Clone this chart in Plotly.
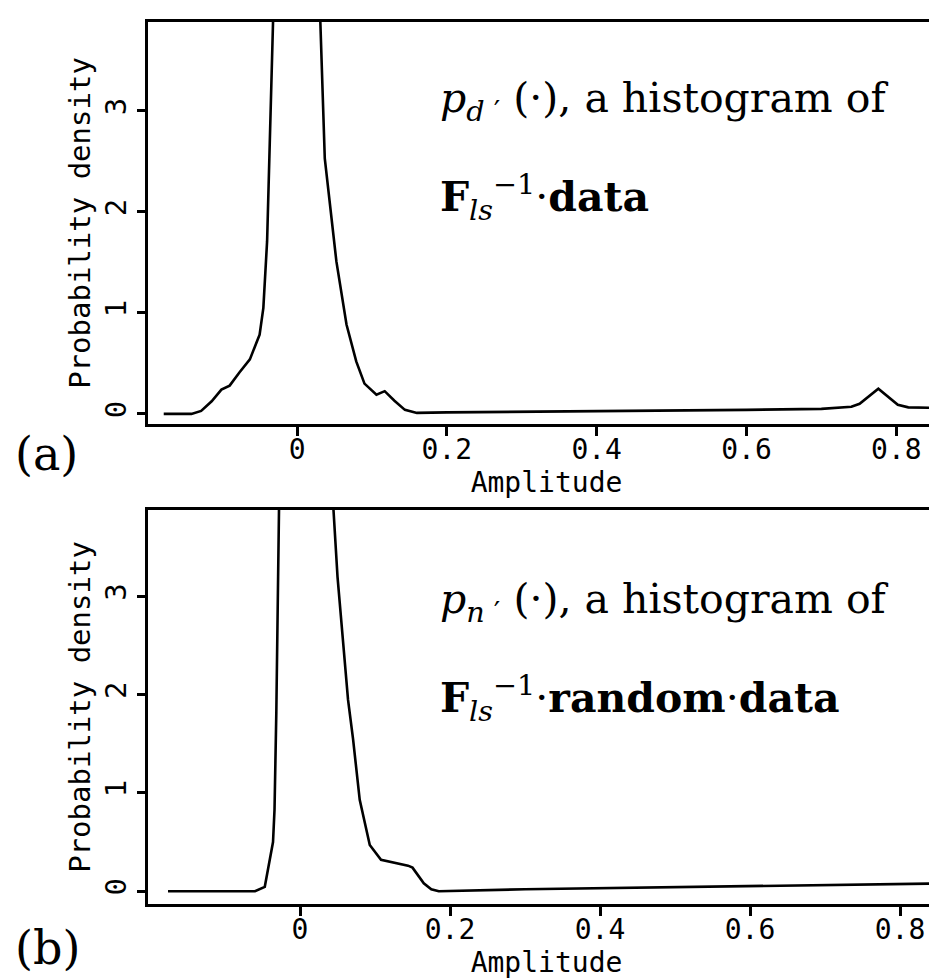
import plotly.graph_objects as go
from plotly.subplots import make_subplots

# Panel (a): histogram of F_ls^-1 . data
amp_a = [-0.178, -0.141, -0.128, -0.114, -0.101, -0.090, -0.077, -0.063, -0.050,
         -0.045, -0.040, -0.0365, -0.032, -0.02, 0.0, 0.02, 0.031, 0.037, 0.044,
         0.0525, 0.066, 0.079, 0.090, 0.106, 0.117, 0.130, 0.144, 0.160, 0.20,
         0.30, 0.40, 0.50, 0.60, 0.70, 0.740, 0.751, 0.776, 0.802, 0.816, 0.853]
dens_a = [0.0, 0.0, 0.03, 0.125, 0.24, 0.28, 0.41, 0.54, 0.785,
          1.05, 1.71, 2.7, 3.9, 6.5, 8.0, 5.5, 3.9, 2.53, 2.04,
          1.51, 0.885, 0.52, 0.30, 0.19, 0.225, 0.13, 0.04, 0.01, 0.015,
          0.02, 0.025, 0.03, 0.04, 0.05, 0.07, 0.10, 0.25, 0.09, 0.065, 0.06]

# Panel (b): histogram of F_ls^-1 . random . data
amp_b = [-0.176, -0.10, -0.060, -0.047, -0.036, -0.034, -0.0316, -0.028, -0.01,
         0.02, 0.04, 0.05, 0.064, 0.0707, 0.0796, 0.093, 0.108, 0.144, 0.150,
         0.165, 0.175, 0.185, 0.30, 0.50, 0.70, 0.86]
dens_b = [0.0, 0.0, 0.0, 0.045, 0.5, 0.83, 1.82, 3.9, 6.5,
          7.0, 4.5, 3.2, 1.95, 1.55, 0.93, 0.47, 0.32, 0.26, 0.24,
          0.08, 0.02, 0.0, 0.02, 0.04, 0.06, 0.08]

x_ticks = [0, 0.2, 0.4, 0.6, 0.8]
x_ticktext = ["0", "0.2", "0.4", "0.6", "0.8"]
y_ticks = [0, 1, 2, 3]
y_ticktext = ["0", "1", "2", "3"]

MONO = "DejaVu Sans Mono"
SERIF = "DejaVu Serif"

fig = make_subplots(rows=2, cols=1)

fig.add_trace(go.Scatter(x=amp_a, y=dens_a, mode="lines",
                         line=dict(color="black", width=2.6), showlegend=False),
              row=1, col=1)
fig.add_trace(go.Scatter(x=amp_b, y=dens_b, mode="lines",
                         line=dict(color="black", width=2.6), showlegend=False),
              row=2, col=1)

xcommon = dict(tickvals=x_ticks, ticktext=x_ticktext, showline=True, mirror=True,
               linecolor="black", linewidth=2.5, ticks="outside", ticklen=9,
               tickwidth=2.5, tickcolor="black", showgrid=False, zeroline=False,
               automargin=False, ticklabelstandoff=-10,
               tickfont=dict(family=MONO, size=28, color="black"),
               title=dict(text="Amplitude", standoff=0,
                          font=dict(family=MONO, size=28, color="black")))
ycommon = dict(tickvals=y_ticks, ticktext=y_ticktext, showline=True, mirror=False,
               linecolor="black", linewidth=2.5, ticks="outside", ticklen=8,
               tickwidth=2.5, tickcolor="black", showgrid=False, zeroline=False,
               tickangle=-90, automargin=False,
               tickfont=dict(family=MONO, size=29, color="black"),
               title=dict(text="Probability density", standoff=0,
                          font=dict(family=MONO, size=29, color="black")))

T, B = 14, 84
H = 980 - T - B
fig.update_layout(
    width=937, height=980,
    margin=dict(l=140, r=0, t=T, b=B),
    paper_bgcolor="white", plot_bgcolor="white",
    xaxis=dict(domain=[0, 1], range=[-0.199, 0.865], **xcommon),
    yaxis=dict(domain=[1 - (416 - T) / H, 1], range=[-0.1, 3.88], **ycommon),
    xaxis2=dict(domain=[0, 1], range=[-0.2027, 0.86], **xcommon),
    yaxis2=dict(domain=[0, (896 - 502) / H], range=[-0.13, 3.88], **ycommon),
)

ann_font = dict(family=SERIF, size=41, color="black")
annotations = [
    dict(text="<i>p</i><sub><i>d</i> ′</sub> (·), a histogram of", x=430, y=93),
    dict(text="<b>F</b><sub><i>ls</i></sub><sup>−1</sup>·<b>data</b>", x=430, y=189),
    dict(text="<i>p</i><sub><i>n</i> ′</sub> (·), a histogram of", x=430, y=594),
    dict(text="<b>F</b><sub><i>ls</i></sub><sup>−1</sup>·<b>random</b>·<b>data</b>", x=430, y=690),
]
for a in annotations:
    fig.add_annotation(text=a["text"], xref="paper", yref="paper",
                       x=(a["x"] - 140) / 797, y=1 - (a["y"] - T) / H,
                       xanchor="left", yanchor="middle", showarrow=False,
                       font=ann_font)

for lab, px, py in [("(a)", 38, 446), ("(b)", 40, 940)]:
    fig.add_annotation(text=lab, xref="paper", yref="paper",
                       x=(px - 140) / 797, y=1 - (py - T) / H,
                       xanchor="center", yanchor="middle", showarrow=False,
                       font=dict(family=SERIF, size=46, color="black"))

fig.write_html("out.html")
